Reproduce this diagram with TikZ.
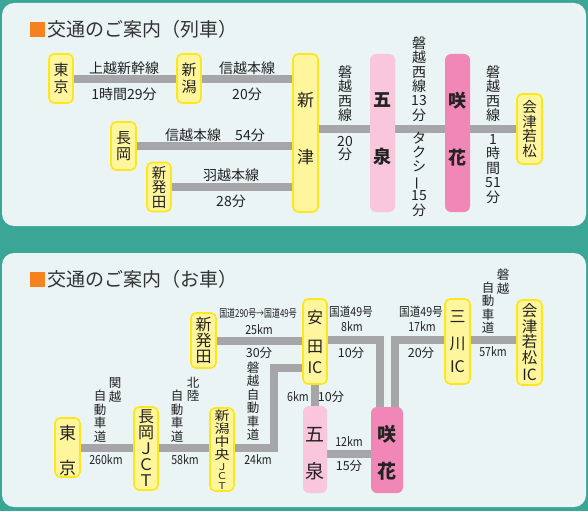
\documentclass[tikz,border=0pt]{standalone}
\usepackage{fontspec}
\setmainfont{Noto Sans CJK JP}
\pgfdeclarelayer{bgA}
\pgfdeclarelayer{bgB}
\pgfsetlayers{bgA,bgB,main}
\definecolor{tealbg}{HTML}{3BA596}
\definecolor{panelc}{HTML}{EAF4F4}
\definecolor{yfill}{HTML}{FFF59C}
\definecolor{yline}{HTML}{FFE61A}
\definecolor{pinkl}{HTML}{F9C6DB}
\definecolor{pinkd}{HTML}{F087B6}
\definecolor{railc}{HTML}{A6A6A9}
\definecolor{orangec}{HTML}{F5821F}
\definecolor{txt}{HTML}{222222}
\definecolor{titlec}{HTML}{333333}
\newcommand\fsz[2]{\fontsize{#1}{#2}\selectfont\lineskiplimit=-100pt\relax}
\newcommand\cnd[2][0.85]{\scalebox{#1}[1]{#2}}
\newcommand\sq[1]{\scalebox{1}[0.85]{#1}}
\newcommand\dpt[1]{\rule[-#1]{0pt}{#1}}
\newcommand\hgt[1]{\rule{0pt}{#1}}
\newcommand\vbar{\rotatebox[origin=c]{90}{ー}}
\tikzset{
  ybox/.style={draw=yline, fill=yfill, line width=1.6pt, rounded corners=5pt, inner sep=0pt, align=center, text=txt},
  pkl/.style={fill=pinkl, rounded corners=6pt, inner sep=0pt, align=center, text=txt},
  pkd/.style={fill=pinkd, rounded corners=6pt, inner sep=0pt, align=center, text=txt},
  rail/.style={draw=railc, line width=8pt},
  lbl/.style={inner sep=0pt, text=txt, align=center},
  ttl/.style={inner sep=0pt, text=titlec, anchor=west, font=\fsz{19}{19}},
  la/.style={lbl, font=\fsz{14}{14.4}},
  lb/.style={lbl, font=\fsz{12.5}{13.5}},
}
\begin{document}
\begin{tikzpicture}[x=1pt,y=-1pt]
\begin{pgfonlayer}{bgA}
\fill[tealbg] (0,0) rectangle (588,511);
\fill[panelc, rounded corners=12pt] (2,3) rectangle (586,226);
\fill[panelc, rounded corners=12pt] (2,253) rectangle (586,507);
\end{pgfonlayer}
\useasboundingbox (0,0) rectangle (588,511);

% ---------- panel 1 ----------
\fill[orangec] (30,22) rectangle (45,37);
\node[ttl] (title1) at (47,29.5) {交通のご案内（列車）};

\node[ybox, minimum width=24pt, minimum height=49pt, font=\fsz{15}{16.5}] (tokyo1) at (61,78.5) {東\\京};
\node[ybox, minimum width=24pt, minimum height=49pt, font=\fsz{15}{16.5}] (niigata1) at (189,78.5) {新\\潟};
\node[ybox, minimum width=25pt, minimum height=48pt, font=\fsz{15}{16.5}] (nagaoka1) at (123.5,146) {長\\岡};
\node[ybox, minimum width=24pt, minimum height=49pt, font=\fsz{14.5}{14.5}] (shibata1) at (159,187) {新\\発\\田};
\node[ybox, minimum width=25pt, minimum height=158pt, font=\fsz{17}{17}] (niitsu1) at (305.5,133) {新\\[40pt]津\dpt{10pt}};
\node[pkl, minimum width=25pt, minimum height=158pt, font=\fsz{18}{17}\bfseries] (gosen1) at (382.5,133) {五\\[40pt]泉\dpt{10pt}};
\node[pkd, minimum width=25pt, minimum height=158pt, font=\fsz{18}{17}\bfseries] (saki1) at (457.5,133) {咲\\[40pt]花\dpt{10pt}};
\node[ybox, minimum width=25pt, minimum height=70pt, font=\fsz{14.5}{14.5}] (aizu1) at (529.5,129) {会\\津\\若\\松};

\begin{pgfonlayer}{bgB}
\draw[rail] (tokyo1) -- (niigata1) -- (niigata1 -| niitsu1);
\draw[rail] (nagaoka1) -- (nagaoka1 -| niitsu1);
\draw[rail] (shibata1) -- (shibata1 -| niitsu1);
\draw[rail] (aizu1 -| niitsu1) -- (aizu1);
\end{pgfonlayer}

\node[la] (p1a) at (124,68) {上越新幹線};
\node[la] (p1b) at (124,94) {1時間29分};
\node[la] (p1c) at (247,68) {信越本線};
\node[la] (p1d) at (247,94) {20分};
\node[la] (p1e) at (215,135) {信越本線　54分};
\node[la] (p1f) at (231,175) {羽越本線};
\node[la] (p1g) at (231,201) {28分};
\node[la] (p1h) at (345,93.5) {磐\\越\\西\\線};
\node[la, font=\fsz{14}{13.5}] (p1i) at (345,148.5) {20\\分};
\node[la] (p1j) at (419,79) {磐\\越\\西\\線\\13\\分};
\node[la] (p1k) at (419,174) {タ\\ク\\シ\\\vbar\\15\\分};
\node[la] (p1l) at (493,93.5) {磐\\越\\西\\線};
\node[la] (p1m) at (493,169) {1\\時\\間\\51\\分};

% ---------- panel 2 ----------
\fill[orangec] (30,272) rectangle (45,287);
\node[ttl] (title2) at (47,279.5) {交通のご案内（お車）};

\node[ybox, minimum width=25pt, minimum height=59pt, font=\fsz{17}{17}] (tokyo2) at (67.5,447.5) {\hgt{20pt}東\\[18pt]京};
\node[ybox, minimum width=24pt, minimum height=83pt, font=\fsz{16}{16}] (nagaoka2) at (146,448.5) {長\\岡\\Ｊ\\Ｃ\\Ｔ};
\node[ybox, minimum width=24pt, minimum height=83pt, font=\fsz{15}{13}] (nct2) at (222,449.5) {\sq{新}\\\sq{潟}\\\sq{中}\\\sq{央}\\[-2pt]{\fsz{11}{9}\sq{Ｊ}}\\[-3.5pt]{\fsz{11}{9}\sq{Ｃ}}\\[-3.5pt]{\fsz{11}{9}\sq{Ｔ}}};
\node[ybox, minimum width=25pt, minimum height=55pt, font=\fsz{16}{16}] (shibata2) at (203.5,340.5) {新\\発\\田};
\node[ybox, minimum width=24pt, minimum height=85pt, font=\fsz{16}{16}] (yasuda) at (315,341.5) {安\\[13pt]田\\[5pt]IC};
\node[pkl, minimum width=24pt, minimum height=87pt, font=\fsz{19}{19}] (gosen2) at (315,449.5) {\hgt{23pt}五\\[18pt]泉};
\node[pkd, minimum width=32pt, minimum height=86pt, font=\fsz{19}{19}\bfseries] (saki2) at (387,450) {\hgt{22pt}咲\\[18pt]花};
\node[ybox, minimum width=25pt, minimum height=85pt, font=\fsz{16}{16}] (mikawa) at (457.5,341.5) {三\\[11pt]川\\[7pt]IC};
\node[ybox, minimum width=25pt, minimum height=85pt, font=\fsz{15.5}{15.5}] (aizu2) at (529.5,342.5) {会\\津\\若\\松\\[2pt]IC};

\coordinate (j1) at (273.5,447.5);
\coordinate (j2) at (273.5,368);
\coordinate (k1) at (379.5,339.5);
\coordinate (k2) at (394.5,339.5);
\coordinate (k3) at (350,453.5);
\begin{pgfonlayer}{bgB}
\draw[rail] (j1 -| tokyo2) -- (j1) -- (j2) -- (j2 -| yasuda);
\draw[rail] (shibata2) -- (shibata2 -| yasuda);
\draw[rail] (k1 -| yasuda) -- (k1) -- (k1 |- saki2);
\draw[rail] (k2 -| aizu2) -- (k2) -- (k2 |- saki2);
\draw[rail] (yasuda) -- (gosen2);
\draw[rail] (k3 -| gosen2) -- (k3 -| saki2);
\end{pgfonlayer}

\node[lbl, font=\fsz{11}{11}] (q1) at (258,313) {\cnd[0.72]{国道290号→国道49号}};
\node[lb] (q2) at (259,330) {\cnd{25km}};
\node[lb] (q3) at (259,353) {30分};
\node[lb] (q4) at (253,401) {磐\\越\\自\\動\\車\\道};
\node[lb] (q5) at (258,460) {\cnd{24km}};
\node[lb] (q6) at (193,389.5) {北\\陸};
\node[lb] (q7) at (177,416) {自\\動\\車\\道};
\node[lb] (q8) at (185,460) {\cnd{58km}};
\node[lb] (q9) at (115,390) {関\\越};
\node[lb] (q10) at (100,416) {自\\動\\車\\道};
\node[lb] (q11) at (106,460) {\cnd{260km}};
\node[lb] (q12) at (298,397) {\cnd{6km}};
\node[lb] (q13) at (331,397) {10分};
\node[lb] (q14) at (351,312) {\cnd{国道49号}};
\node[lb] (q15) at (352,327) {\cnd{8km}};
\node[lb] (q16) at (351,353) {10分};
\node[lb] (q17) at (421,312) {\cnd{国道49号}};
\node[lb] (q18) at (422,327) {\cnd{17km}};
\node[lb] (q19) at (421,353) {20分};
\node[lb] (q20) at (349,442) {\cnd{12km}};
\node[lb] (q21) at (349,466) {15分};
\node[lb] (q22) at (503,281.5) {磐\\越};
\node[lb] (q23) at (488,307.5) {自\\動\\車\\道};
\node[lb] (q24) at (493,352) {\cnd{57km}};
\end{tikzpicture}
\end{document}
